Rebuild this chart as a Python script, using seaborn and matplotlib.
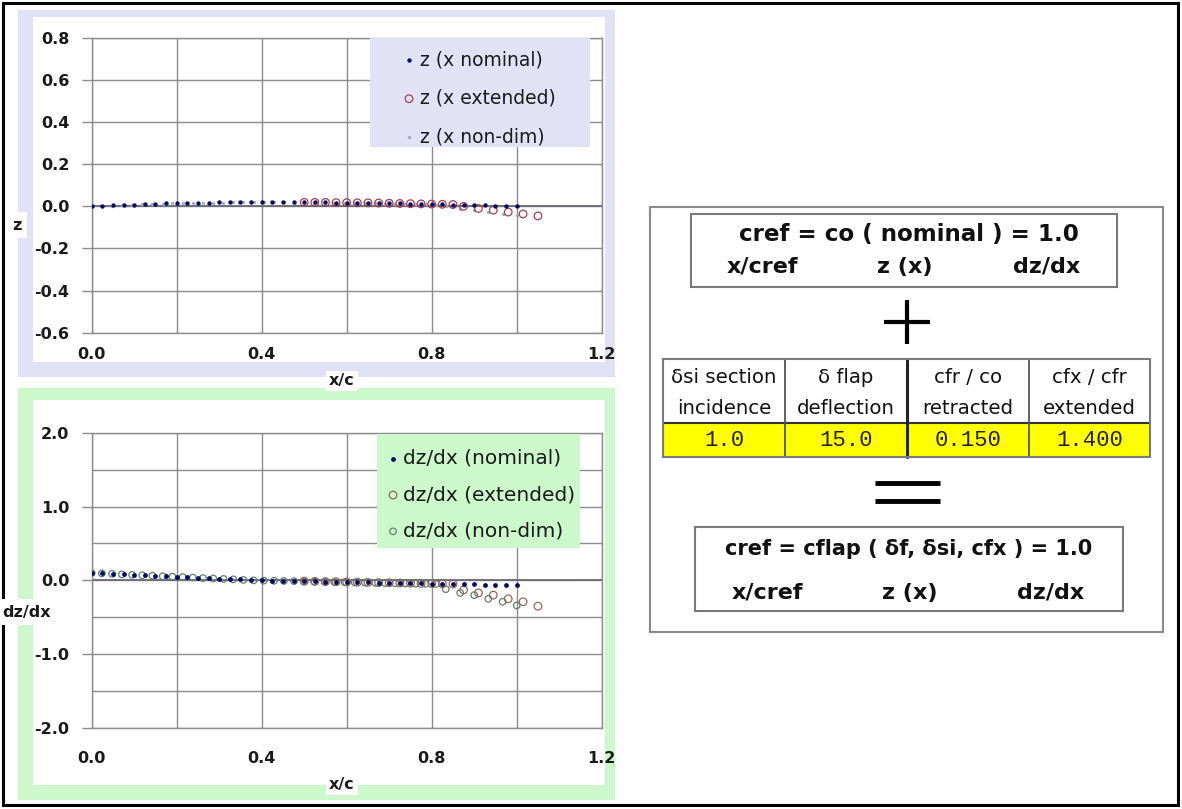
import matplotlib
matplotlib.use("Agg")
import matplotlib.pyplot as plt
import seaborn as sns
import pandas as pd
from matplotlib.patches import Rectangle
from matplotlib.lines import Line2D

# ---------------- data ----------------
x_nom = [0.000, 0.025, 0.050, 0.075, 0.100, 0.125, 0.150, 0.175, 0.200, 0.225,
         0.250, 0.275, 0.300, 0.325, 0.350, 0.375, 0.400, 0.425, 0.450, 0.475,
         0.500, 0.525, 0.550, 0.575, 0.600, 0.625, 0.650, 0.675, 0.700, 0.725,
         0.750, 0.775, 0.800, 0.825, 0.850, 0.875, 0.900, 0.925, 0.950, 0.975, 1.000]
z_nom = [0.000, 0.002, 0.005, 0.007, 0.009, 0.011, 0.012, 0.014, 0.015, 0.016,
         0.017, 0.018, 0.019, 0.019, 0.020, 0.020, 0.020, 0.020, 0.020, 0.020,
         0.019, 0.019, 0.019, 0.018, 0.018, 0.017, 0.017, 0.016, 0.015, 0.014,
         0.013, 0.012, 0.011, 0.010, 0.009, 0.007, 0.006, 0.005, 0.003, 0.002, 0.000]
dzdx_nom = [0.100, 0.094, 0.088, 0.081, 0.075, 0.069, 0.063, 0.056, 0.050, 0.044,
            0.038, 0.031, 0.025, 0.019, 0.013, 0.006, 0.000, -0.003, -0.006, -0.008,
            -0.011, -0.014, -0.017, -0.019, -0.022, -0.025, -0.028, -0.031, -0.033, -0.036,
            -0.039, -0.042, -0.044, -0.047, -0.050, -0.053, -0.056, -0.058, -0.061, -0.064, -0.067]

x_ext = [0.500, 0.525, 0.550, 0.575, 0.600, 0.625, 0.650, 0.675, 0.700, 0.725,
         0.750, 0.775, 0.800, 0.825, 0.850, 0.875, 0.910, 0.945, 0.980, 1.015, 1.050]
z_ext = [0.019, 0.019, 0.019, 0.018, 0.018, 0.017, 0.017, 0.016, 0.015, 0.014,
         0.013, 0.012, 0.011, 0.010, 0.009, 0.000, -0.010, -0.018, -0.027, -0.036, -0.045]
dzdx_ext = [-0.011, -0.014, -0.017, -0.019, -0.022, -0.025, -0.028, -0.031, -0.033, -0.036,
            -0.039, -0.042, -0.044, -0.047, -0.050, -0.13, -0.17, -0.20, -0.25, -0.29, -0.35]

x_nd = [0.000, 0.024, 0.048, 0.071, 0.095, 0.119, 0.143, 0.167, 0.190, 0.214,
        0.238, 0.262, 0.286, 0.310, 0.333, 0.357, 0.381, 0.405, 0.429, 0.452,
        0.476, 0.500, 0.524, 0.548, 0.571, 0.595, 0.619, 0.643, 0.667, 0.690,
        0.714, 0.738, 0.762, 0.786, 0.810, 0.833, 0.867, 0.900, 0.933, 0.967, 1.000]
z_nd = [0.000, 0.002, 0.004, 0.006, 0.008, 0.010, 0.012, 0.013, 0.014, 0.015,
        0.016, 0.017, 0.018, 0.018, 0.019, 0.019, 0.019, 0.019, 0.019, 0.019,
        0.018, 0.018, 0.018, 0.017, 0.017, 0.016, 0.016, 0.015, 0.014, 0.013,
        0.012, 0.011, 0.010, 0.010, 0.009, 0.000, -0.010, -0.017, -0.026, -0.034, -0.043]
dzdx_nd = [0.100, 0.094, 0.088, 0.081, 0.075, 0.069, 0.063, 0.056, 0.050, 0.044,
           0.038, 0.031, 0.025, 0.019, 0.013, 0.006, 0.000, -0.003, -0.006, -0.008,
           -0.011, -0.014, -0.017, -0.019, -0.022, -0.025, -0.028, -0.031, -0.033, -0.036,
           -0.039, -0.042, -0.044, -0.047, -0.050, -0.12, -0.17, -0.20, -0.25, -0.29, -0.34]

top_labels = ["z (x nominal)", "z (x extended)", "z (x non-dim)"]
bot_labels = ["dz/dx (nominal)", "dz/dx (extended)", "dz/dx (non-dim)"]

table_header = ["\u03b4si section\nincidence", "\u03b4 flap\ndeflection",
                "cfr / co\nretracted", "cfx / cfr\nextended"]
table_values = ["1.0", "15.0", "0.150", "1.400"]

# ---------------- style ----------------
sns.set_theme(style="white")
plt.rcParams["font.family"] = ["DejaVu Sans"]

W, H = 1182, 809
fig = plt.figure(figsize=(W / 100, H / 100), dpi=100)
fig.patch.set_facecolor("white")


def fx(x):
    return x / W


def fy(y):
    return 1 - y / H


def rect(x0, y0, x1, y1, **kw):
    r = Rectangle((fx(x0), fy(y1)), (x1 - x0) / W, (y1 - y0) / H,
                  transform=fig.transFigure, **kw)
    fig.patches.append(r)
    return r


def hline(x0, x1, y, **kw):
    fig.lines.append(Line2D([fx(x0), fx(x1)], [fy(y), fy(y)], transform=fig.transFigure, **kw))


def vline(x, y0, y1, **kw):
    fig.lines.append(Line2D([fx(x), fx(x)], [fy(y0), fy(y1)], transform=fig.transFigure, **kw))


LAV = "#e2e2f6"
GRN = "#ccf8cc"
GRID = "#8c8c8c"
TXT = "#1a1a1a"

# outer border
rect(3, 3, 1178, 805, facecolor="none", edgecolor="black", lw=2.2, zorder=-1)
# chart panels (behind the axes)
rect(18, 10, 615, 377, facecolor=LAV, edgecolor="none", zorder=-2)
rect(33, 17, 605, 362, facecolor="white", edgecolor="none", zorder=-1)
rect(18, 388, 615, 800, facecolor=GRN, edgecolor="none", zorder=-2)
rect(33, 400, 605, 785, facecolor="white", edgecolor="none", zorder=-1)


def style_axes(ax, ylim, ymaj, ymin, yfmt, xlabel_pad):
    ax.set_facecolor("none")
    ax.set_xlim(0, 1.2)
    ax.set_ylim(*ylim)
    ax.set_xticks([0.0, 0.4, 0.8, 1.2])
    ax.set_xticks([0.2, 0.6, 1.0], minor=True)
    ax.set_yticks(ymaj)
    ax.set_yticks(ymin, minor=True)
    ax.set_xticklabels([f"{v:.1f}" for v in [0.0, 0.4, 0.8, 1.2]])
    ax.set_yticklabels([yfmt.format(v) for v in ymaj])
    ax.grid(True, which="both", color=GRID, lw=1.0)
    ax.set_axisbelow(True)
    for s in ax.spines.values():
        s.set_color(GRID)
        s.set_linewidth(1.0)
    ax.tick_params(axis="y", which="major", length=7, width=1, color=GRID, pad=9,
                   labelsize=11.5, left=True)
    ax.tick_params(axis="y", which="minor", length=0)
    ax.tick_params(axis="x", which="both", length=0, pad=xlabel_pad, labelsize=11.5)
    for t in ax.get_xticklabels() + ax.get_yticklabels():
        t.set_fontweight("bold")
        t.set_color(TXT)
    ax.axhline(0, color="#6a6a7a", lw=1.3, zorder=1)


# ---------------- top chart ----------------
ax1 = fig.add_axes([fx(91.7), fy(332.7), 510 / W, (332.7 - 38.0) / H])
style_axes(ax1, (-0.6, 0.8), [-0.6, -0.4, -0.2, 0.0, 0.2, 0.4, 0.6, 0.8], [], "{:.1f}", 10.6)

sns.scatterplot(x=x_nom, y=z_nom, ax=ax1, color="#0a0a60", s=10, linewidth=0,
                label=top_labels[0], zorder=4)
sns.scatterplot(x=x_ext, y=z_ext, ax=ax1, facecolor="none", edgecolor="#a04050", s=30,
                linewidth=0.9, marker="o", label=top_labels[1], zorder=3)
sns.scatterplot(x=x_nd, y=z_nd, ax=ax1, color="#a8a8c0", s=6, linewidth=0,
                label=top_labels[2], zorder=2)
ax1.set_xlabel("x/c", fontweight="bold", fontsize=11.5, color=TXT,
               bbox=dict(facecolor="white", edgecolor="none", pad=2))
ax1.xaxis.set_label_coords((342 - 91.7) / 510, -(381 - 332.7) / 294.7)
ax1.xaxis.label.set_va("center")
ax1.set_ylabel("z", fontweight="bold", fontsize=11.5, rotation=0, color=TXT,
               bbox=dict(facecolor="white", edgecolor="none", pad=4))
ax1.yaxis.set_label_coords((17 - 91.7) / 510, 1 - (225 - 38.0) / 294.7)
ax1.yaxis.label.set_va("center")

h1, l1 = ax1.get_legend_handles_labels()
if ax1.get_legend() is not None:
    ax1.get_legend().remove()
rect(370, 38, 590, 147, facecolor=LAV, edgecolor="none", zorder=1)
leg1 = fig.legend(h1, l1, loc="upper left", bbox_to_anchor=(fx(403.4), fy(50)),
                  frameon=False, fontsize=13.5, labelspacing=1.05, handlelength=0.6,
                  handletextpad=0.29, borderpad=0, borderaxespad=0)
for t in leg1.get_texts():
    t.set_color(TXT)

# ---------------- bottom chart ----------------
ax2 = fig.add_axes([fx(91.7), fy(728.0), 510 / W, (728.0 - 432.7) / H])
style_axes(ax2, (-2.0, 2.0), [-2.0, -1.0, 0.0, 1.0, 2.0], [-1.5, -0.5, 0.5, 1.5], "{:.1f}", 16.5)

sns.scatterplot(x=x_nom, y=dzdx_nom, ax=ax2, color="#0a0a60", s=12, linewidth=0,
                label=bot_labels[0], zorder=4)
sns.scatterplot(x=x_ext, y=dzdx_ext, ax=ax2, facecolor="none", edgecolor="#8a6a5a", s=30,
                linewidth=0.9, marker="o", label=bot_labels[1], zorder=3)
sns.scatterplot(x=x_nd, y=dzdx_nd, ax=ax2, facecolor="none", edgecolor="#5f7f6a", s=22,
                linewidth=0.9, marker="o", label=bot_labels[2], zorder=2)
ax2.set_xlabel("x/c", fontweight="bold", fontsize=11.5, color=TXT,
               bbox=dict(facecolor="white", edgecolor="none", pad=2))
ax2.xaxis.set_label_coords((342 - 91.7) / 510, -(785 - 728) / 295.3)
ax2.xaxis.label.set_va("center")
ax2.set_ylabel("dz/dx", fontweight="bold", fontsize=11.5, rotation=0, color=TXT,
               bbox=dict(facecolor="white", edgecolor="none", pad=4))
ax2.yaxis.set_label_coords((27 - 91.7) / 510, 1 - (612 - 432.7) / 295.3)
ax2.yaxis.label.set_va("center")

h2, l2 = ax2.get_legend_handles_labels()
if ax2.get_legend() is not None:
    ax2.get_legend().remove()
rect(377, 434, 580, 548, facecolor=GRN, edgecolor="none", zorder=1)
leg2 = fig.legend(h2, l2, loc="upper left", bbox_to_anchor=(fx(387.5), fy(449)),
                  frameon=False, fontsize=14.5, labelspacing=0.86, handlelength=0.55,
                  handletextpad=0.22, borderpad=0, borderaxespad=0)
for t in leg2.get_texts():
    t.set_color(TXT)

# ---------------- right panel ----------------
FONT = ["DejaVu Sans"]
rect(650, 207, 1163, 632, facecolor="white", edgecolor="#8a8a8a", lw=1.5, zorder=1)

# top formula box
rect(691, 214, 1117, 287, facecolor="white", edgecolor="#7a7a7a", lw=1.5, zorder=2)
fig.text(fx(909), fy(234), "cref = co ( nominal ) = 1.0", ha="center", va="center",
         fontsize=16.6, fontweight="bold", family=FONT, color="#111111")
for cx, s in zip([762, 905, 1047], ["x/cref", "z (x)", "dz/dx"]):
    fig.text(fx(cx), fy(267), s, ha="center", va="center", fontsize=16,
             fontweight="bold", family=FONT, color="#111111")

# plus sign
hline(884, 930, 322, color="black", lw=3, solid_capstyle="butt")
vline(907, 300, 344, color="black", lw=3, solid_capstyle="butt")

# table
tx0, tx1 = 663, 1150
ty0, tym, ty1 = 359, 423, 457
cols = [663, 785, 907, 1029, 1150]
rect(tx0, tym, tx1, ty1, facecolor="#ffff00", edgecolor="none", zorder=2)
rect(tx0, ty0, tx1, ty1, facecolor="none", edgecolor="#7a7a7a", lw=1.5, zorder=3)
hline(tx0, tx1, tym, color="#333333", lw=1.5, zorder=3)
for i, c in enumerate(cols[1:-1]):
    vline(c, ty0, ty1, color="#222222" if i == 1 else "#555555", lw=2.2 if i == 1 else 1.3, zorder=3)
for i in range(4):
    cx = (cols[i] + cols[i + 1]) / 2
    a, b = table_header[i].split("\n")
    fig.text(fx(cx), fy(378), a, ha="center", va="center", fontsize=14.2,
             family=FONT, color="#111111")
    fig.text(fx(cx), fy(409), b, ha="center", va="center", fontsize=14.2,
             family=FONT, color="#111111")
    fig.text(fx(cx), fy(441), table_values[i], ha="center", va="center", fontsize=16,
             family=["Liberation Mono", "DejaVu Sans Mono"], color="#222222")

# equals sign
hline(875, 940, 483, color="black", lw=3.5, solid_capstyle="butt")
hline(875, 940, 501, color="black", lw=3.5, solid_capstyle="butt")

# bottom formula box
rect(695, 527, 1123, 611, facecolor="white", edgecolor="#7a7a7a", lw=1.5, zorder=2)
fig.text(fx(909), fy(549), "cref = cflap ( \u03b4f, \u03b4si, cfx ) = 1.0", ha="center",
         va="center", fontsize=15, fontweight="bold", family=FONT, color="#111111")
for cx, s in zip([767, 910, 1051], ["x/cref", "z (x)", "dz/dx"]):
    fig.text(fx(cx), fy(593), s, ha="center", va="center", fontsize=16,
             fontweight="bold", family=FONT, color="#111111")

fig.savefig("out.png", dpi=100, facecolor="white")
